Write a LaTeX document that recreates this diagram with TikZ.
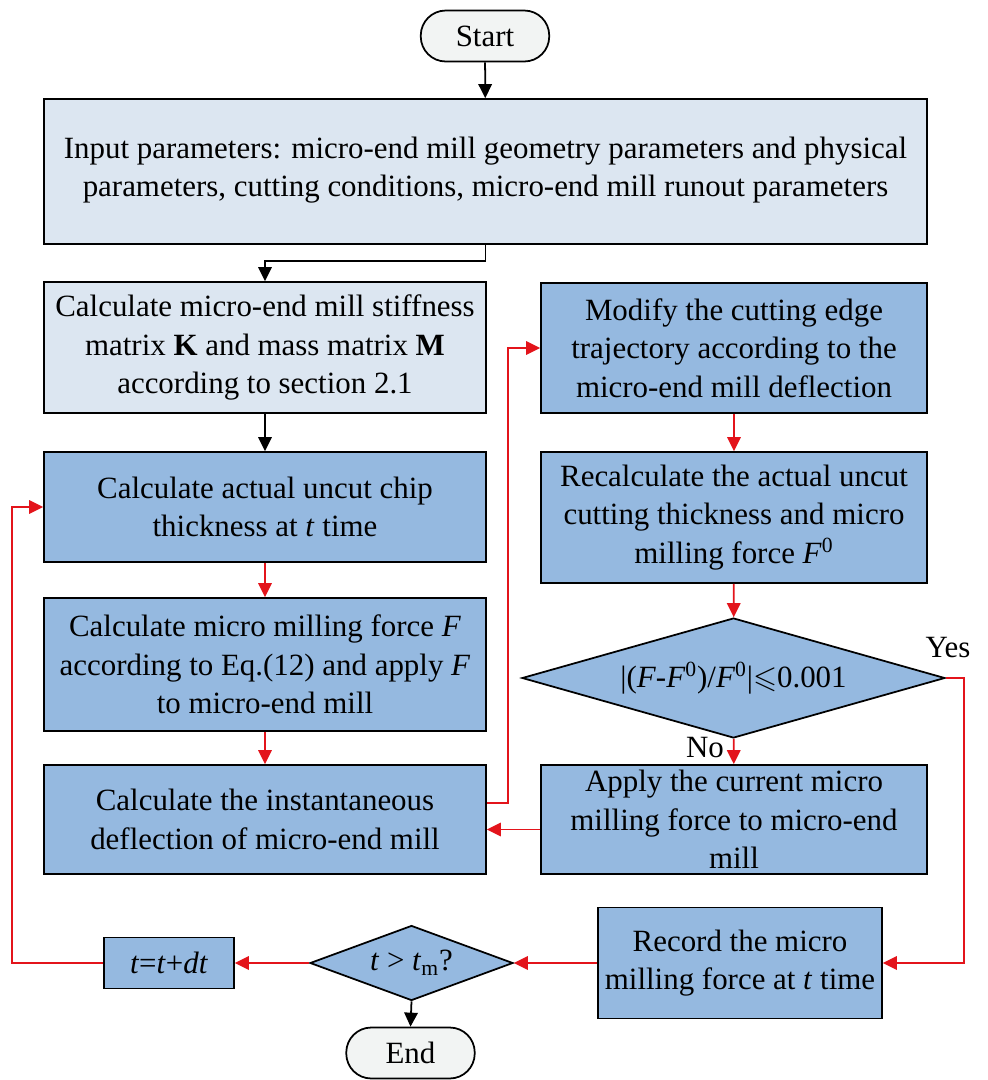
\documentclass[tikz,border=0pt]{standalone}
\usepackage{fontspec}
\usepackage{amssymb}
\setmainfont{Liberation Serif}
\usetikzlibrary{arrows.meta, shapes.geometric}
\definecolor{lightfill}{HTML}{DCE6F1}
\definecolor{darkfill}{HTML}{95B9E0}
\definecolor{termfill}{HTML}{F2F4F3}
\definecolor{flowred}{HTML}{E3141B}

\begin{document}
\begin{tikzpicture}[x=0.02cm,y=-0.02cm,>={Triangle[length=0.28cm,width=0.27cm]},
  line width=1pt,font=\fontsize{17.6}{21.8}\selectfont,
  term node/.style={draw,fill=termfill,rectangle,rounded corners=0.5cm,minimum width=2.57cm,minimum height=1.02cm,inner sep=2pt},
  light node/.style={draw,fill=lightfill,align=center,inner sep=2pt},
  main node/.style={draw,fill=darkfill,align=center,inner sep=2pt},
  test node/.style={draw,fill=darkfill,diamond,inner sep=0pt},
  red line/.style={flowred,->}]
  \useasboundingbox (0,0) rectangle (988,1080);

  \node[term node] (1) at (485,36) {Start};
  \node[light node,minimum width=17.66cm,minimum height=2.9cm,text depth=0.2cm] (2) at (485.5,171.5)
    {Input parameters: micro-end mill geometry parameters and physical\\parameters, cutting conditions, micro-end mill runout parameters};
  \node[light node,minimum width=8.84cm,minimum height=2.62cm] (3) at (265,347.5)
    {Calculate micro-end mill stiffness\\matrix \textbf{K} and mass matrix \textbf{M}\\according to section 2.1};
  \node[main node,minimum width=8.84cm,minimum height=2.2cm] (4) at (265,507)
    {Calculate actual uncut chip\\thickness at \textit{t} time};
  \node[main node,minimum width=8.84cm,minimum height=2.66cm] (5) at (265,664.5)
    {Calculate micro milling force \textit{F}\\according to Eq.(12) and apply \textit{F}\\to micro-end mill};
  \node[main node,minimum width=8.84cm,minimum height=2.18cm] (6) at (265,819.5)
    {Calculate the instantaneous\\deflection of micro-end mill};

  \node[main node,minimum width=7.72cm,minimum height=2.6cm] (7) at (734,348)
    {Modify the cutting edge\\trajectory according to the\\micro-end mill deflection};
  \node[main node,minimum width=7.72cm,minimum height=2.62cm] (8) at (734,517.5)
    {Recalculate the actual uncut\\cutting thickness and micro\\milling force \textit{F}\textsuperscript{0}};
  \node[test node,aspect=3.5,minimum width=8.46cm,minimum height=2.4cm] (9) at (733.5,678)
    {|(\textit{F}-\textit{F}\textsuperscript{0})/\textit{F}\textsuperscript{0}|$\leqslant$0.001};
  \node[main node,minimum width=7.72cm,minimum height=2.18cm] (10) at (734,819.5)
    {Apply the current micro\\milling force to micro-end\\mill};

  \node[main node,minimum width=5.68cm,minimum height=2.22cm] (11) at (740,963)
    {Record the micro\\milling force at \textit{t} time};
  \node[test node,aspect=2.7,minimum width=4.06cm,minimum height=1.5cm] (12) at (411.5,963)
    {\textit{t} > \textit{t}\textsubscript{m}?};
  \node[main node,minimum width=2.6cm,minimum height=1.02cm] (13) at (169,963)
    {\textit{t}=\textit{t}+\textit{dt}};
  \node[term node] (14) at (410.5,1053) {End};

  \node at (948,648) {Yes};
  \node at (705,748) {No};

  \coordinate (c1) at (265,261);
  \draw[->] (1) -- (2);
  \draw[->] (2.south) |- (c1) -- (3.north);
  \draw[->] (3) -- (4);
  \draw[red line] (4) -- (5);
  \draw[red line] (5) -- (6);
  \draw[red line] ([yshift=0.33cm]6.east) -- ++(21,0) |- (7.west);
  \draw[red line] (7) -- (8);
  \draw[red line] (8) -- (9);
  \draw[red line] (9) -- (10);
  \draw[red line] ([yshift=-0.2cm]10.west) -- ([yshift=-0.2cm]6.east);
  \draw[red line] (9.east) -- ++(18,0) |- (11.east);
  \draw[red line] (11.west) -- (12.east);
  \draw[red line] (12.west) -- (13.east);
  \draw[red line] (13.west) -- ++(-91,0) |- (4.west);
  \draw[->] (12.south) -- (14.north);
\end{tikzpicture}
\end{document}
